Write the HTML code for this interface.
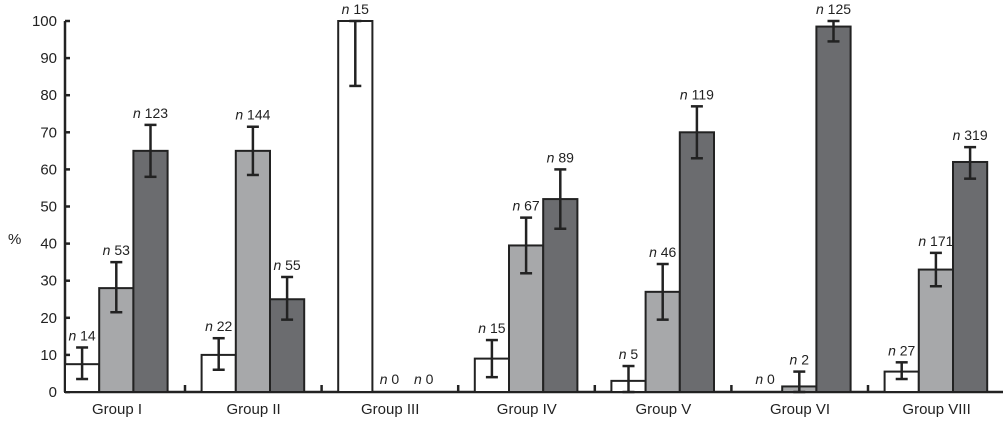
<!DOCTYPE html>
<html><head><meta charset="utf-8"><style>
body{margin:0;background:#fff;}
svg text{font-family:"Liberation Sans",sans-serif;fill:#222;}
</style></head><body>
<svg id="chart" width="1005" height="419"></svg>
<script>
const groups=["Group I","Group II","Group III","Group IV","Group V","Group VI","Group VIII"];
const whiteVals=[7.5,10,100,9,3,0,5.5];
const whiteLo=[3.5,6,82.5,4,0,0,3.5];
const whiteHi=[12,14.5,100,14,7,0,8];
const whiteN=[14,22,15,15,5,0,27];
const lightVals=[28,65,0,39.5,27,1.5,33];
const lightLo=[21.5,58.5,0,32,19.5,0,28.5];
const lightHi=[35,71.5,0,47,34.5,5.5,37.5];
const lightN=[53,144,0,67,46,2,171];
const darkVals=[65,25,0,52,70,98.5,62];
const darkLo=[58,19.5,0,44,63,94.5,57.5];
const darkHi=[72,31,0,60,77,100,66];
const darkN=[123,55,0,89,119,125,319];
const yTicks=[0,10,20,30,40,50,60,70,80,90,100];

const NS="http://www.w3.org/2000/svg";
const svg=document.getElementById('chart');
const x0=65,gw=136.6,bw=34.2;
function y(v){return 392-v*3.71;}
function gx(i){return x0+i*gw;}
function mk(t,a,p){const e=document.createElementNS(NS,t);for(const k in a)e.setAttribute(k,a[k]);(p||svg).appendChild(e);return e;}

// axes
const ya=mk('line',{x1:x0,y1:y(100),x2:x0,y2:392,stroke:'#222','stroke-width':2.5});


const xa=mk('line',{x1:x0,y1:392,x2:1003,y2:392,stroke:'#222','stroke-width':2.5});


const yt=mk('text',{x:8,y:244,'font-size':15});yt.textContent='%';


yTicks.forEach(v=>{
  const t=mk('line',{x1:x0,y1:y(v),x2:x0+5,y2:y(v),stroke:'#222','stroke-width':2.5});
  
  
  const l=mk('text',{x:x0-8,y:y(v)+5,'font-size':15,'text-anchor':'end'});l.textContent=v;
  
  
});
groups.forEach((g,i)=>{
  const tx=gx(i)+120;
  if(i<groups.length-1){
    const t=mk('line',{x1:tx,y1:392,x2:tx,y2:385,stroke:'#222','stroke-width':2.5});
    
    
  }
  const l=mk('text',{x:gx(i)+52,y:414,'font-size':15,'text-anchor':'middle'});l.textContent=g;
  
  
});
const series=[
 {v:whiteVals,lo:whiteLo,hi:whiteHi,n:whiteN,c:'#ffffff',name:'white'},
 {v:lightVals,lo:lightLo,hi:lightHi,n:lightN,c:'#a7a8aa',name:'light'},
 {v:darkVals,lo:darkLo,hi:darkHi,n:darkN,c:'#6b6c6f',name:'dark'}];
series.forEach((s,si)=>{
  groups.forEach((g,i)=>{
    const bx=gx(i)+si*bw, cx=bx+bw/2, v=s.v[i];
    if(v>0){
      const r=mk('rect',{x:bx,y:y(v),width:bw,height:392-y(v),fill:s.c,stroke:'#222','stroke-width':2});
      
      
    }
    if(s.hi[i]>s.lo[i]){
      const gE=mk('g',{stroke:'#222','stroke-width':2.5});
      
      
      mk('line',{x1:cx,y1:y(s.hi[i]),x2:cx,y2:y(s.lo[i])},gE);
      mk('line',{x1:cx-6,y1:y(s.hi[i]),x2:cx+6,y2:y(s.hi[i])},gE);
      mk('line',{x1:cx-6,y1:y(s.lo[i]),x2:cx+6,y2:y(s.lo[i])},gE);
    }
    const top=s.n[i]===0?y(0)-8:y(Math.max(s.hi[i],v))-7;
    const l=mk('text',{x:cx,y:top,'font-size':14,'text-anchor':'middle'});
    l.innerHTML='<tspan font-style="italic">n</tspan> '+s.n[i];
    
    
  });
});
</script>
</body></html>
